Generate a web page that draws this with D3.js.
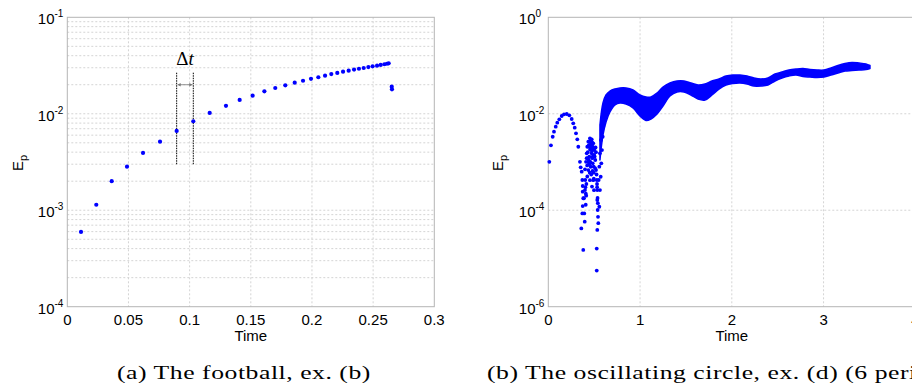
<!DOCTYPE html>
<html>
<head>
<meta charset="utf-8">
<script src="https://cdn.jsdelivr.net/npm/d3@7"></script>
<style>
  body { margin: 0; background: #fff; }
  svg { display: block; }
  .tick-label { font-family: "Liberation Sans", Arial, sans-serif; font-size: 15px; fill: #000; }
  .caption { font-family: "Liberation Serif", "DejaVu Serif", serif; font-size: 19px; fill: #000; letter-spacing: 0.4px; }
</style>
</head>
<body>
<div id="chart"></div>
<script>
// (a) football: time steps and E_p
var footballTime = [0.0112, 0.0237, 0.0363, 0.0488, 0.0619, 0.0758, 0.0894, 0.1030, 0.1164, 0.1297,
                    0.1409, 0.1515, 0.1611, 0.1700, 0.1782, 0.1859, 0.1927, 0.1992, 0.2052, 0.2107,
                    0.2158, 0.2207, 0.2254, 0.2300, 0.2344, 0.2384, 0.2423, 0.2461, 0.2496, 0.2532,
                    0.2562, 0.2592, 0.2613, 0.2627, 0.2652, 0.2654];
var footballEp = [5.96e-4, 1.14e-3, 2.0e-3, 2.83e-3, 3.93e-3, 5.14e-3, 6.64e-3, 8.36e-3, 1.02e-2, 1.21e-2,
                  1.39e-2, 1.54e-2, 1.71e-2, 1.85e-2, 1.97e-2, 2.10e-2, 2.20e-2, 2.30e-2, 2.39e-2, 2.48e-2,
                  2.58e-2, 2.65e-2, 2.73e-2, 2.80e-2, 2.87e-2, 2.93e-2, 2.98e-2, 3.05e-2, 3.10e-2, 3.15e-2,
                  3.21e-2, 3.26e-2, 3.30e-2, 3.33e-2, 1.91e-2, 1.79e-2];
// delta t marker: spans between the 7th and 8th steps
var dtIndex = [6, 7];
var dtRange = [3.0e-3, 2.69e-2];
var dtArrowEp = 2.0e-2;
var dtLabelEp = 3.2e-2;

// (b) oscillating circle: sparse points at start
var circleTime = [0.011, 0.029, 0.048, 0.062, 0.081, 0.098, 0.120, 0.146, 0.171, 0.201, 0.229, 0.255,
                  0.272, 0.288, 0.302, 0.316, 0.327, 0.345, 0.353, 0.364, 0.371, 0.375, 0.375, 0.381,
                  0.375, 0.371, 0.360, 0.381, 0.397, 0.392, 0.389, 0.400, 0.403, 0.400, 0.411, 0.419,
                  0.425, 0.436, 0.454, 0.473, 0.490, 0.501, 0.512, 0.520, 0.528, 0.534, 0.534, 0.538,
                  0.542, 0.534, 0.528, 0.528, 0.545, 0.447, 0.462, 0.473, 0.484, 0.436, 0.454, 0.490,
                  0.498, 0.476, 0.425, 0.444, 0.484, 0.556, 0.563, 0.571, 0.578, 0.585, 0.593, 0.599,
                  0.549, 0.556, 0.563, 0.574, 0.582, 0.589, 0.596, 0.607, 0.466, 0.458, 0.480, 0.441,
                  0.495, 0.430, 0.505, 0.515, 0.520, 0.409, 0.415,
                  0.430, 0.440, 0.450, 0.460, 0.470, 0.480, 0.490, 0.500, 0.445, 0.455, 0.465, 0.475,
                  0.485, 0.495, 0.438, 0.452, 0.468, 0.482, 0.496, 0.510, 0.418, 0.424, 0.532, 0.540,
                  0.537, 0.531, 0.526, 0.405, 0.408, 0.413];
var circleEp = [1.01e-3, 2.22e-3, 3.34e-3, 4.25e-3, 5.39e-3, 6.53e-3, 7.68e-3, 8.99e-3, 9.75e-3, 9.89e-3, 9.29e-3, 7.79e-3,
                6.34e-3, 5.14e-3, 3.94e-3, 2.95e-3, 2.07e-3, 1.01e-3, 7.76e-4, 6.29e-4, 4.23e-4, 3.18e-4, 2.42e-4, 1.77e-4,
                1.22e-4, 8.6e-5, 4.2e-5, 1.5e-5, 5.8e-5, 8.6e-5, 1.77e-4, 2.62e-4, 4.23e-4, 7.05e-4, 1.01e-3, 1.51e-3,
                2.07e-3, 2.64e-3, 3.10e-3, 2.95e-3, 2.44e-3, 1.77e-3, 1.10e-3, 6.82e-4, 4.23e-4, 2.62e-4, 1.63e-4, 1.01e-4,
                7.3e-5, 3.9e-5, 1.6e-5, 5.6e-6, 5.4e-5, 1.29e-3, 7.98e-4, 1.51e-3, 9.4e-4, 6.8e-4, 4.2e-4, 4.2e-4,
                2.6e-4, 3.1e-4, 5.0e-4, 2.07e-3, 2.07e-3, 1.18e-4, 2.62e-4, 4.95e-4, 9.4e-4, 1.77e-3, 3.34e-3, 5.39e-3,
                4.23e-4, 8.0e-4, 1.51e-3, 2.86e-3, 4.6e-3, 7.43e-3, 1.10e-2, 1.40e-2, 2.3e-3, 1.0e-3, 1.2e-3, 1.1e-3,
                6.0e-4, 1.2e-3, 1.3e-3, 2.0e-3, 1.6e-3, 2.2e-4, 3.5e-4,
                1.6e-3, 2.2e-3, 2.6e-3, 2.8e-3, 2.7e-3, 2.5e-3, 1.9e-3, 1.4e-3, 9.0e-4, 1.8e-3, 2.0e-3, 1.7e-3,
                1.3e-3, 8.0e-4, 1.0e-3, 6.0e-4, 5.5e-4, 6.5e-4, 4.5e-4, 7.5e-4, 1.2e-3, 8.5e-4, 3.0e-4, 1.4e-4,
                1.8e-4, 3.5e-4, 5.5e-4, 3.0e-4, 1.3e-4, 2.0e-4];
// (b) dense band after t ~ 0.56: upper and lower envelope
var bandTime = [0.563, 0.596, 0.629, 0.672, 0.727, 0.781, 0.847, 0.923, 0.999, 1.065, 1.119, 1.185, 1.250,
                1.326, 1.403, 1.479, 1.555, 1.632, 1.708, 1.784, 1.860, 1.937, 2.013, 2.089, 2.166, 2.242,
                2.318, 2.394, 2.471, 2.547, 2.623, 2.700, 2.776, 2.852, 2.929, 3.005, 3.081, 3.157, 3.234,
                3.310, 3.386, 3.462, 3.506];
var bandHi = [5.85e-3, 1.67e-2, 2.45e-2, 2.96e-2, 3.26e-2, 3.42e-2, 3.42e-2, 3.11e-2, 2.45e-2, 2.23e-2, 2.23e-2, 2.69e-2, 3.59e-2,
              4.34e-2, 4.78e-2, 4.78e-2, 4.34e-2, 3.95e-2, 4.14e-2, 4.78e-2, 5.26e-2, 6.07e-2, 6.36e-2, 6.36e-2, 6.07e-2, 5.51e-2,
              5.26e-2, 5.51e-2, 6.67e-2, 7.34e-2, 8.07e-2, 8.47e-2, 8.68e-2, 8.27e-2, 8.07e-2, 8.07e-2, 8.89e-2, 0.100, 0.110,
              0.116, 0.113, 0.108, 0.100];
var bandLo = [1.10e-3, 3.63e-3, 6.75e-3, 1.09e-2, 1.52e-2, 1.67e-2, 1.59e-2, 1.32e-2, 9.0e-3, 7.25e-3, 7.8e-3, 9.9e-3, 1.45e-2,
              2.34e-2, 2.83e-2, 2.83e-2, 2.45e-2, 2.02e-2, 1.93e-2, 2.45e-2, 3.26e-2, 3.95e-2, 4.24e-2, 4.34e-2, 4.14e-2, 3.77e-2,
              3.77e-2, 3.95e-2, 4.78e-2, 5.51e-2, 6.07e-2, 6.36e-2, 5.93e-2, 5.78e-2, 5.65e-2, 5.78e-2, 6.36e-2, 7.0e-2, 7.7e-2,
              7.88e-2, 8.07e-2, 8.27e-2, 8.68e-2];

// axis ticks
var footballXTicks = [0, 0.05, 0.1, 0.15, 0.2, 0.25, 0.3];
var footballYExp = [-1, -2, -3, -4];
var circleXTicks = [0, 1, 2, 3, 4];
var circleYExp = [0, -2, -4, -6];

var captions = ["(a) The football, ex. (b)", "(b) The oscillating circle, ex. (d) (6 periods)"];

var W = 912, H = 391;
var svg = d3.select("#chart").append("svg")
    .attr("width", W).attr("height", H);

var plotTop = 17.3, plotBottom = 306.7;
var gridColor = "#d4d4d4", boxColor = "#b4b4b4", dotColor = "#0000ff";

function drawPanel(opt) {
  var x = d3.scaleLinear().domain(opt.xDomain).range(opt.xRange);
  var y = d3.scaleLog().domain(opt.yDomain).range([plotBottom, plotTop]);
  var g = svg.append("g");

  // vertical grid
  g.selectAll(".vgrid").data(opt.xTicks.slice(1, -1)).enter().append("line")
    .attr("x1", function(d) { return x(d); }).attr("x2", function(d) { return x(d); })
    .attr("y1", plotTop).attr("y2", plotBottom)
    .attr("stroke", gridColor).attr("stroke-dasharray", "2,2");

  // horizontal grid (major + minor on log axis)
  var hLines = [];
  opt.yExp.forEach(function(e) {
    if (e > opt.yExp[opt.yExp.length - 1] && e < opt.yExp[0]) hLines.push(Math.pow(10, e));
  });
  if (opt.minor) {
    y.ticks().forEach(function(v) {
      var m = Math.round(v / Math.pow(10, Math.floor(Math.log10(v) + 1e-9)));
      if (m !== 1) hLines.push(v);
    });
  }
  g.selectAll(".hgrid").data(hLines).enter().append("line")
    .attr("x1", opt.xRange[0]).attr("x2", opt.xRange[1])
    .attr("y1", function(d) { return y(d); }).attr("y2", function(d) { return y(d); })
    .attr("stroke", gridColor).attr("stroke-dasharray", "2,2");

  // box
  g.append("rect")
    .attr("x", opt.xRange[0]).attr("y", plotTop)
    .attr("width", opt.xRange[1] - opt.xRange[0]).attr("height", plotBottom - plotTop)
    .attr("fill", "none").attr("stroke", boxColor);

  // x tick labels
  g.selectAll(".xl").data(opt.xTicks).enter().append("text")
    .attr("class", "tick-label")
    .attr("x", function(d) { return x(d); }).attr("y", 325)
    .attr("text-anchor", "middle")
    .text(function(d) { return d; });

  // y tick labels 10^e
  var yl = g.selectAll(".yl").data(opt.yExp).enter().append("text")
    .attr("class", "tick-label")
    .attr("x", opt.xRange[0] - 29.5)
    .attr("y", function(d) { return y(Math.pow(10, d)) + 7; });
  yl.append("tspan").text("10");
  yl.append("tspan").attr("dy", -7).style("font-size", "10px").text(function(d) { return d; });

  // axis labels
  g.append("text").attr("class", "tick-label")
    .attr("x", (opt.xRange[0] + opt.xRange[1]) / 2).attr("y", 341)
    .attr("text-anchor", "middle").text("Time");
  var yLab = g.append("text").attr("class", "tick-label")
    .attr("transform", "translate(" + opt.yLabelX + "," + 163 + ") rotate(-90)")
    .attr("text-anchor", "middle");
  yLab.append("tspan").text("E");
  yLab.append("tspan").attr("dy", 4).style("font-size", "11px").text("p");

  return { g: g, x: x, y: y };
}

// ---- panel (a)
var pa = drawPanel({
  xDomain: [0, 0.3], xRange: [67.3, 434.3], yDomain: [1e-4, 1e-1],
  xTicks: footballXTicks, yExp: footballYExp, minor: true, yLabelX: 23
});

// delta t annotation
dtIndex.forEach(function(i) {
  pa.g.append("line")
    .attr("x1", pa.x(footballTime[i])).attr("x2", pa.x(footballTime[i]))
    .attr("y1", pa.y(dtRange[0])).attr("y2", pa.y(dtRange[1]))
    .attr("stroke", "#000").attr("stroke-dasharray", "1.5,1");
});
var ax0 = pa.x(footballTime[dtIndex[0]]), ax1 = pa.x(footballTime[dtIndex[1]]), ay = pa.y(dtArrowEp);
pa.g.append("line").attr("x1", ax0 + 1).attr("x2", ax1 - 1).attr("y1", ay).attr("y2", ay)
  .attr("stroke", "#777").attr("stroke-width", 0.8);
pa.g.append("path")
  .attr("d", "M" + (ax0 + 1) + "," + ay + "l3,-1.8v3.6z M" + (ax1 - 1) + "," + ay + "l-3,-1.8v3.6z")
  .attr("fill", "#777");
var dtText = pa.g.append("text")
  .attr("x", (ax0 + ax1) / 2).attr("y", pa.y(dtLabelEp))
  .attr("text-anchor", "middle")
  .style("font-family", "'Liberation Serif', serif").style("font-size", "19px");
dtText.append("tspan").text("\u0394");
dtText.append("tspan").style("font-style", "italic").text("t");

pa.g.selectAll(".dot").data(footballTime).enter().append("circle")
  .attr("cx", function(d) { return pa.x(d); })
  .attr("cy", function(d, i) { return pa.y(footballEp[i]); })
  .attr("r", 2.1).attr("fill", dotColor);

// ---- panel (b)
var pb = drawPanel({
  xDomain: [0, 4], xRange: [548.3, 915.3], yDomain: [1e-6, 1],
  xTicks: circleXTicks, yExp: circleYExp, minor: false, yLabelX: 503
});

var band = d3.area()
  .curve(d3.curveCatmullRom)
  .x(function(d) { return pb.x(d); })
  .y0(function(d, i) { return pb.y(bandLo[i]); })
  .y1(function(d, i) { return pb.y(bandHi[i]); });
pb.g.append("path").datum(bandTime)
  .attr("d", band)
  .attr("fill", dotColor).attr("stroke", dotColor).attr("stroke-width", 1.5).attr("stroke-linejoin", "round");

pb.g.selectAll(".dot").data(circleTime).enter().append("circle")
  .attr("cx", function(d) { return pb.x(d); })
  .attr("cy", function(d, i) { return pb.y(circleEp[i]); })
  .attr("r", 1.9).attr("fill", dotColor);

// captions: Computer Modern is wider than Times, so stretch horizontally to match
var capX = [117, 487], capY = 379, capWidthA = 254;
var caps = svg.selectAll(".caption").data(captions).enter().append("text")
  .attr("class", "caption")
  .text(function(d) { return d; });
var sx = capWidthA / caps.nodes()[0].getComputedTextLength();
caps.attr("transform", function(d, i) {
  return "translate(" + capX[i] + "," + capY + ") scale(" + sx + ",1)";
});
</script>
</body>
</html>
